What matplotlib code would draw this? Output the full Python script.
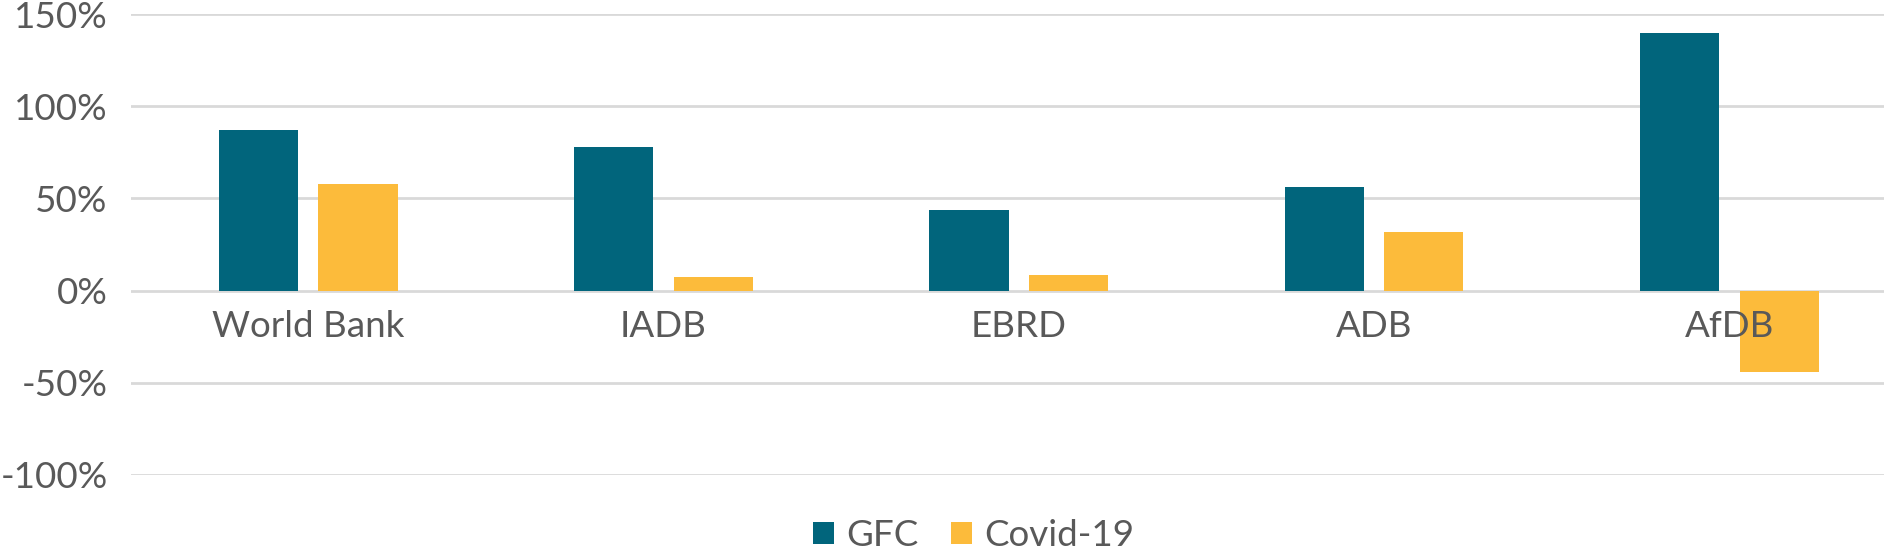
import matplotlib
matplotlib.use("Agg")
import matplotlib.pyplot as plt
from matplotlib.ticker import FuncFormatter
import numpy as np

categories = ["World Bank", "IADB", "EBRD", "ADB", "AfDB"]
gfc = [87.3, 78.0, 43.8, 56.1, 139.7]
covid = [57.9, 7.2, 8.5, 31.7, -44.2]
series_names = ["GFC", "Covid-19"]
yticks = [-100, -50, 0, 50, 100, 150]

plt.rcParams['font.family'] = ['Lato', 'DejaVu Sans']
text_color = "#595959"
grid_color = "#d9d9d9"
c_gfc = "#01657C"
c_covid = "#FCBB3B"
fs = 26.5

fig = plt.figure(figsize=(18.84, 5.57), dpi=100)
ax = fig.add_axes([130.5 / 1884, 1 - 474.6 / 557, 1 - 130.5 / 1884, (474.6 - 14.4) / 557])

x = np.arange(len(categories))
w = 0.223
off = 0.14
ax.bar(x - off, gfc, width=w, color=c_gfc, label=series_names[0], zorder=2)
ax.bar(x + off, covid, width=w, color=c_covid, label=series_names[1], zorder=2)

ax.set_ylim(-100, 150)
ax.set_xlim(-0.5, 4.435)
ax.set_yticks(yticks)
ax.yaxis.set_major_formatter(FuncFormatter(lambda v, p: f"{int(v)}%"))
ax.grid(axis='y', color=grid_color, linewidth=2.0, zorder=0)
ax.set_axisbelow(True)

for s in ax.spines.values():
    s.set_visible(False)
ax.spines['bottom'].set_position(('data', 0))

ax.set_xticks(x)
ax.set_xticklabels(categories)
ax.tick_params(axis='x', length=0, pad=14, labelsize=fs, labelcolor=text_color)
ax.tick_params(axis='y', length=0, pad=16.5, labelsize=fs, labelcolor=text_color)
ax.xaxis.set_zorder(5)

fig.legend(loc='center', bbox_to_anchor=(973.5 / 1884, 1 - 535.5 / 557), ncol=2,
           frameon=False, fontsize=fs, labelcolor=text_color,
           handlelength=0.57, handleheight=0.57, handletextpad=0.33,
           columnspacing=0.87, borderpad=0)

fig.savefig("out.png", dpi=100)
